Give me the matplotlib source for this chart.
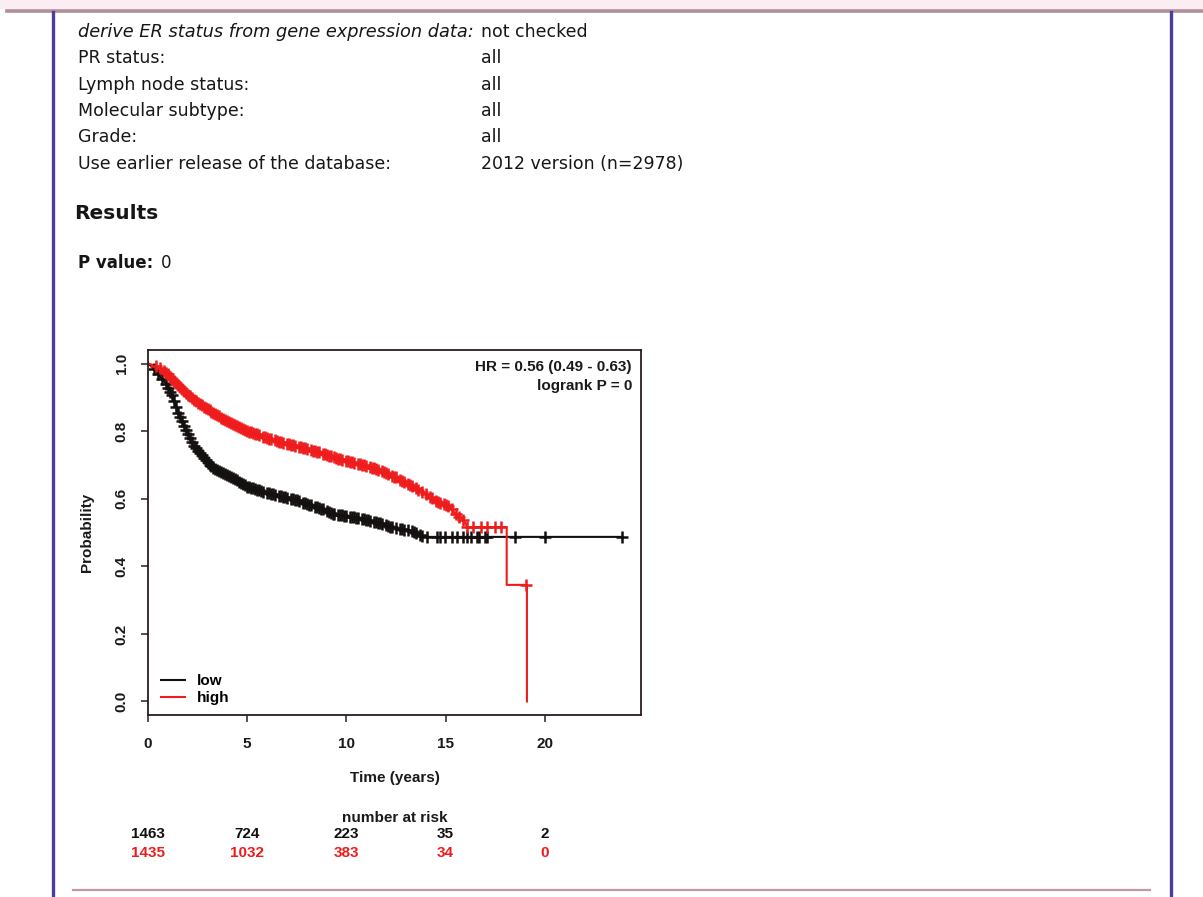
import numpy as np
import matplotlib
matplotlib.use("Agg")
import matplotlib.pyplot as plt
from matplotlib.lines import Line2D

W, H = 1203, 897

# settings table shown above the plot
labels = ["PR status:", "Lymph node status:", "Molecular subtype:", "Grade:",
          "Use earlier release of the database:"]
values = ["all", "all", "all", "all", "2012 version (n=2978)"]

# Kaplan-Meier curves (years, survival)
low_t = [0, 0.2, 0.35, 0.6, 0.86, 1.2, 1.5, 1.86, 2.27, 2.7, 3.1, 3.5, 4.0, 4.4,
         5.0, 5.5, 6.0, 6.5, 7.05, 7.5, 8.06, 8.66, 9.3, 9.67, 10.2, 10.7, 11.2,
         11.7, 12.35, 13.2, 13.7, 13.9, 23.9]
low_s = [1.0, 0.99, 0.98, 0.962, 0.944, 0.906, 0.855, 0.808, 0.758, 0.729, 0.70,
         0.684, 0.670, 0.658, 0.636, 0.627, 0.617, 0.610, 0.602, 0.595, 0.583,
         0.572, 0.556, 0.552, 0.547, 0.542, 0.535, 0.527, 0.514, 0.506, 0.493,
         0.487, 0.487]
high_t = [0, 0.3, 0.6, 1.0, 1.4, 1.86, 2.3, 2.7, 3.1, 3.5, 4.0, 4.4, 5.0, 5.5,
          6.0, 6.9, 7.75, 8.66, 9.4, 10.3, 11.0, 11.7, 12.5, 13.35, 14.05, 14.56,
          15.2, 15.55, 15.9, 16.1, 18.08, 18.08, 19.1, 19.1]
high_s = [1.0, 0.995, 0.988, 0.968, 0.942, 0.914, 0.893, 0.876, 0.861, 0.847,
          0.830, 0.817, 0.800, 0.790, 0.779, 0.764, 0.752, 0.736, 0.722, 0.708,
          0.697, 0.684, 0.663, 0.636, 0.611, 0.592, 0.575, 0.553, 0.537, 0.516,
          0.516, 0.345, 0.345, 0.0]

# censoring times (+ marks)
low_cens = [0.3, 0.5, 0.7, 0.9, 1.0, 1.2, 1.3, 1.5, 1.6, 1.8, 1.9, 2.1, 2.2, 2.4,
            2.5, 2.7, 2.8, 3.0, 3.1, 3.3, 3.4, 3.6, 3.7, 3.9, 4.0, 4.2, 4.3, 4.5,
            4.6, 4.8, 4.9, 5.1, 5.2, 5.4, 5.5, 5.7, 5.8, 6.0, 6.1, 6.3, 6.4, 6.6,
            6.7, 6.9, 7.0, 7.2, 7.3, 7.5, 7.6, 7.8, 7.9, 8.1, 8.2, 8.4, 8.5, 8.7,
            8.8, 9.0, 9.1, 9.3, 9.4, 9.6, 9.7, 9.9, 10.0, 10.2, 10.3, 10.5, 10.6,
            10.8, 10.9, 11.1, 11.2, 11.4, 11.5, 11.7, 11.8, 12.0, 12.1, 12.3,
            12.5, 12.7, 12.9, 13.1, 13.3, 13.5, 13.7, 14.05, 14.56, 14.7, 14.96,
            15.3, 15.6, 15.9, 16.1, 16.3, 16.6, 16.7, 17.0, 17.1, 18.5, 20.0, 23.9,
            1.1, 1.4, 1.7, 2.0, 2.3, 2.6, 2.9, 3.2, 3.5, 3.8, 4.1, 4.4, 4.7, 5.0,
            5.3, 5.6, 6.2, 6.8, 7.4, 8.0, 8.6, 9.2, 9.8, 10.4, 11.0, 11.6, 12.2,
            12.8, 13.4, 13.8]
high_cens = [0.4, 0.6, 0.8, 1.0, 1.1, 1.3, 1.4, 1.6, 1.7, 1.9, 2.0, 2.2, 2.3, 2.5,
             2.6, 2.8, 2.9, 3.1, 3.2, 3.4, 3.5, 3.7, 3.8, 4.0, 4.1, 4.3, 4.4, 4.6,
             4.7, 4.9, 5.0, 5.2, 5.3, 5.5, 5.6, 5.8, 5.9, 6.1, 6.2, 6.4, 6.5, 6.7,
             6.8, 7.0, 7.1, 7.3, 7.4, 7.6, 7.7, 7.9, 8.0, 8.2, 8.3, 8.5, 8.6, 8.8,
             8.9, 9.1, 9.2, 9.4, 9.5, 9.7, 9.8, 10.0, 10.1, 10.3, 10.4, 10.6, 10.7,
             10.9, 11.0, 11.2, 11.3, 11.5, 11.6, 11.8, 11.9, 12.1, 12.3, 12.5,
             12.7, 12.9, 13.1, 13.3, 13.5, 13.8, 14.0, 14.3, 14.5, 14.7, 14.9,
             15.1, 15.3, 15.5, 15.7, 15.9, 16.1, 16.4, 16.8, 17.1, 17.5, 17.8, 19.05,
             0.9, 1.2, 1.5, 1.8, 2.1, 2.4, 2.7, 3.0, 3.3, 3.6, 3.9, 4.2, 4.5, 4.8,
             5.1, 5.4, 6.0, 6.6, 7.2, 7.8, 8.4, 9.0, 9.6, 10.2, 10.8, 11.4, 12.0,
             12.4, 12.8, 13.2, 13.6, 14.2, 14.6, 15.0]

xticks = [0, 5, 10, 15, 20]
risk_low = [1463, 724, 223, 35, 2]
risk_high = [1435, 1032, 383, 34, 0]

BLACK = "#141010"
RED = "#ee1c1c"
PAGE_TXT = "#161616"
PLOT_TXT = "#1a1a1a"


def fx(px):
    return px / W


def fy(py):
    return 1 - py / H


fig = plt.figure(figsize=(W / 100, H / 100), dpi=100)
fig.patch.set_facecolor("white")

# page frame
fig.add_artist(plt.Rectangle((0, fy(9)), 1, 9 / H, color="#fbeef3", lw=0))
fig.add_artist(Line2D([fx(7), 1], [fy(11), fy(11)], color="#b38d99", lw=2.6))
fig.add_artist(Line2D([fx(53), fx(53)], [fy(12), 0], color="#4a3e9c", lw=2.4))
fig.add_artist(Line2D([fx(1171), fx(1171)], [fy(12), 0], color="#4a3e9c", lw=2.4))
fig.add_artist(Line2D([fx(73), fx(1150)], [fy(890), fy(890)], color="#c29aa6", lw=1.6))

# settings text
fs = 12.5
fig.text(fx(78), fy(32), "derive ER status from gene expression data:", style="italic",
         fontsize=12.8, color=PAGE_TXT, va="center", family="DejaVu Sans")
fig.text(fx(481), fy(32), "not checked", fontsize=fs, color=PAGE_TXT, va="center",
         family="DejaVu Sans")
for i, (lab, val) in enumerate(zip(labels, values)):
    y = 58 + i * 26.5
    fig.text(fx(78), fy(y), lab, fontsize=fs, color=PAGE_TXT, va="center",
             family="DejaVu Sans")
    fig.text(fx(481), fy(y), val, fontsize=fs, color=PAGE_TXT, va="center",
             family="DejaVu Sans")

fig.text(fx(74), fy(213), "Results", fontsize=14.5, weight="bold", color=PAGE_TXT,
         va="center", family="DejaVu Sans")
fig.text(fx(78), fy(263), "P value:", fontsize=12, weight="bold", color=PAGE_TXT,
         va="center", family="DejaVu Sans")
fig.text(fx(161), fy(263), "0", fontsize=12, color=PAGE_TXT, va="center",
         family="DejaVu Sans")

# KM plot
pf = "Liberation Sans"
pfs = 11
ax = fig.add_axes([fx(148), fy(715), 493 / W, 365 / H])
ax.set_xlim(0, 24.85)
ax.set_ylim(-0.04, 1.04)

ax.plot(low_t, low_s, color=BLACK, lw=1.5, label="low")
ax.plot(high_t, high_s, color=RED, lw=1.5, label="high")
ax.plot(low_cens, np.interp(low_cens, low_t, low_s), ls="none", marker="+",
        ms=8, mew=1.8, color=BLACK)
ax.plot(high_cens, np.interp(high_cens, high_t, high_s), ls="none", marker="+",
        ms=8, mew=1.8, color=RED)

for sp in ax.spines.values():
    sp.set_color("#2a1c1c")
    sp.set_linewidth(1.3)

ax.set_xticks(xticks)
ax.set_yticks([0, 0.2, 0.4, 0.6, 0.8, 1.0])
ax.set_yticklabels(["0.0", "0.2", "0.4", "0.6", "0.8", "1.0"])
ax.tick_params(axis="both", direction="out", length=5, width=1.1, color="#2a1c1c",
               labelsize=pfs, labelcolor=PLOT_TXT)
ax.tick_params(axis="x", pad=11)
ax.tick_params(axis="y", pad=9, labelrotation=90)
for lab in ax.get_xticklabels() + ax.get_yticklabels():
    lab.set_family(pf)
    lab.set_weight("bold")
for lab in ax.get_yticklabels():
    lab.set_va("center")

ax.text(-0.124, 0.5, "Probability", rotation=90, transform=ax.transAxes,
        ha="center", va="center", fontsize=pfs, family=pf, weight="bold", color=PLOT_TXT)
ax.text(0.5, -0.1726, "Time (years)", transform=ax.transAxes, ha="center",
        va="center", fontsize=pfs, family=pf, weight="bold", color=PLOT_TXT)
ax.text(0.9817, 0.953, "HR = 0.56 (0.49 - 0.63)", transform=ax.transAxes,
        ha="right", va="center", fontsize=pfs, family=pf, weight="bold", color=PLOT_TXT)
ax.text(0.9817, 0.901, "logrank P = 0", transform=ax.transAxes,
        ha="right", va="center", fontsize=pfs, family=pf, weight="bold", color=PLOT_TXT)

ax.legend(loc="lower left", bbox_to_anchor=(0.01, 0.006), frameon=False,
          handlelength=1.6, handletextpad=0.8, labelspacing=0.18, borderpad=0,
          prop={"family": pf, "size": pfs, "weight": "bold"})

# number at risk table
tr = ax.get_xaxis_transform()
ax.text(0.5, -0.282, "number at risk", transform=ax.transAxes, ha="center",
        va="center", fontsize=pfs, family=pf, weight="bold", color=PLOT_TXT)
for x, a, b in zip(xticks, risk_low, risk_high):
    ax.text(x, -0.326, str(a), transform=tr, ha="center", va="center",
            fontsize=pfs, family=pf, weight="bold", color=BLACK, clip_on=False)
    ax.text(x, -0.378, str(b), transform=tr, ha="center", va="center",
            fontsize=pfs, family=pf, weight="bold", color=RED, clip_on=False)

fig.savefig("out.png", dpi=100)
